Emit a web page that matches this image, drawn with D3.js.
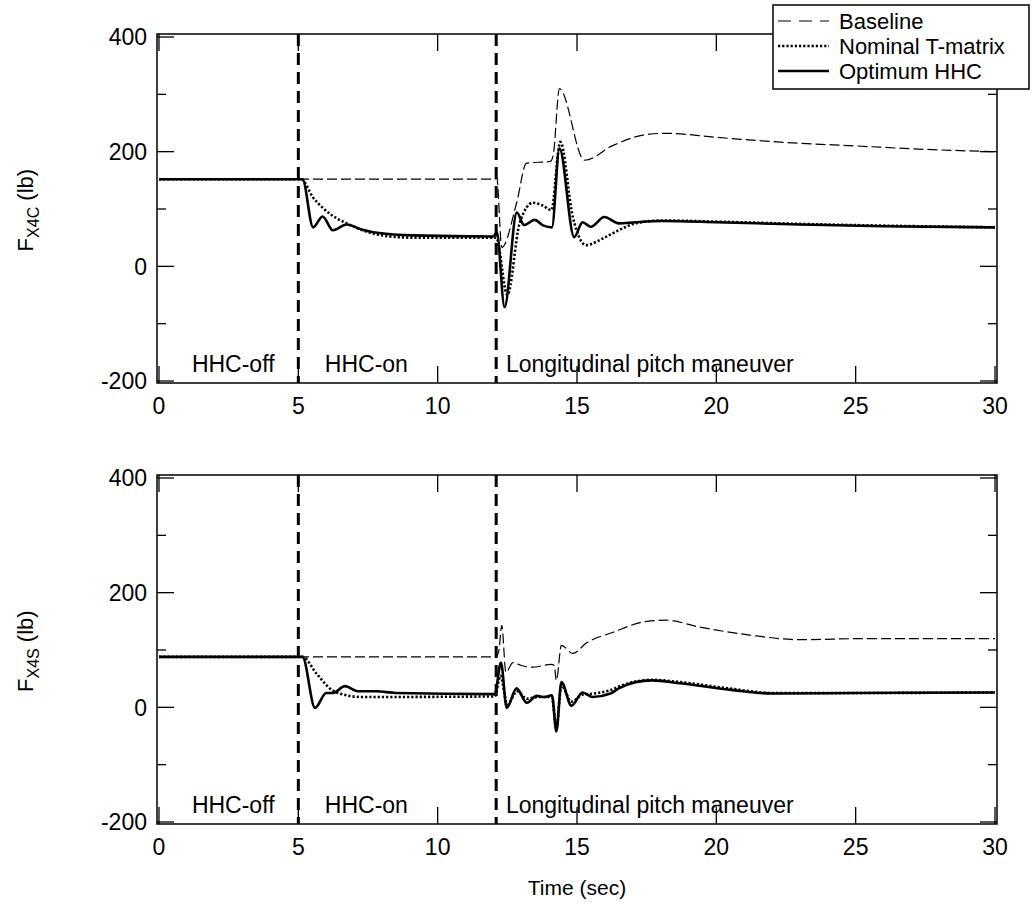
<!DOCTYPE html>
<html>
<head>
<meta charset="utf-8">
<script src="https://cdn.jsdelivr.net/npm/d3@7"></script>
<style>
  html, body { margin: 0; padding: 0; background: #fff; }
  svg { display: block; font-family: "Liberation Sans", Arial, Helvetica, sans-serif; }
</style>
</head>
<body>
<svg id="chart" width="1033" height="909"></svg>
<script>
// ---------- DATA ----------
const xTicks = [0, 5, 10, 15, 20, 25, 30];
const yTicksMajor = [-200, 0, 200, 400];
const yTicksMinor = [-100, 100, 300];
const phaseLines = [5, 12.1];
const phaseLabels = [
  { t: 1.18, text: "HHC-off" },
  { t: 5.95, text: "HHC-on" },
  { t: 12.45, text: "Longitudinal pitch maneuver" }
];
const seriesNames = ["Baseline", "Nominal T-matrix", "Optimum HHC"];

// Top panel: F_X4C (lb) — [time (sec), value]
const topBaseline = [[0,152],[12.05,152],[12.12,155],[12.3,33],[12.83,110],[13.19,180],[14.05,183],[14.15,195],[14.37,310],[15.27,185],[16.3,211],[17.5,230],[18.2,232],[20,225],[22.5,216],[25,210],[27.5,204],[30,200]];
const topNominal = [[0,152],[5.1,152],[5.53,120],[5.9,101],[6.37,84],[6.73,75],[7.3,63],[8.3,52],[9.1,50],[12.1,50],[12.5,-50],[12.94,75],[13.42,111],[13.77,106],[14.08,98],[14.4,217],[14.85,86],[15.33,37],[15.9,48],[16.5,63],[17.1,75],[18.06,80],[20,78],[23,74],[26,71],[30,68]];
const topOptimum = [[0,152],[5.15,152],[5.53,68],[5.87,87],[6.24,63],[6.73,73],[7.3,64],[7.9,58],[9.1,54],[12.0,52],[12.12,60],[12.4,-71],[12.84,94],[13.1,72],[13.48,81],[13.8,71],[14.1,68],[14.37,206],[14.9,51],[15.2,77],[15.5,69],[15.98,86],[16.5,75],[17.1,77],[18.06,79],[20,77],[23,73],[26,70],[30,68]];

// Bottom panel: F_X4S (lb) — [time (sec), value]
const botBaseline = [[0,88],[12.1,88],[12.2,100],[12.3,143],[12.45,61],[12.7,78],[13.0,73],[13.4,70],[14.08,75],[14.18,73],[14.26,47],[14.44,108],[14.85,94],[15.33,112],[16.3,131],[17.5,150],[18.2,152],[19.4,140],[21.2,126],[23,118],[25.4,120],[30,120]];
const botNominal = [[0,88],[5.15,88],[5.65,59],[6.13,33],[6.73,21],[7.3,18],[12.05,19],[12.25,55],[12.5,5],[12.85,28],[13.2,15],[13.6,18],[14.1,18],[14.26,-35],[14.44,38],[14.8,10],[15.2,22],[15.6,24],[16.2,30],[16.6,38],[17.1,45],[17.7,48],[18.7,44],[20.6,32],[22,25],[25,25],[30,26]];
const botOptimum = [[0,88],[5.15,88],[5.6,-1],[6.0,25],[6.25,25],[6.67,37],[7.13,28],[7.8,28],[8.5,25],[12.05,23],[12.27,78],[12.48,-1],[12.83,33],[13.2,8],[13.55,20],[13.83,18],[14.1,21],[14.26,-42],[14.44,44],[14.8,3],[15.2,26],[15.56,18],[16.2,24],[16.5,33],[17.1,44],[17.7,47],[18.7,42],[20.6,30],[22,24],[25,25],[30,26]];

// ---------- STYLE ----------
const styles = [
  { width: 1.2, dash: "10,4", legendDash: "13,8" },
  { width: 2.6, dash: "2.2,2", legendDash: "2.2,2" },
  { width: 2.6, dash: null, legendDash: null }
];

const svg = d3.select("#chart");
const FONT = 23;

const x = d3.scaleLinear().domain([0, 30]).range([159, 995]);

const panels = [
  { top: 37, sub: "X4C", series: [topBaseline, topNominal, topOptimum] },
  { top: 478, sub: "X4S", series: [botBaseline, botNominal, botOptimum] }
];

panels.forEach(p => {
  const y = d3.scaleLinear().domain([-200, 400]).range([p.top + 344, p.top]);
  const g = svg.append("g");
  const left = x.range()[0] - 2, right = x.range()[1] + 2;
  const topY = y(400) - 3, botY = y(-200) + 2;

  const clipId = "clip" + p.sub;
  svg.append("clipPath").attr("id", clipId).append("rect")
    .attr("x", left).attr("y", topY).attr("width", right - left).attr("height", botY - topY);

  // ticks (inward)
  const tk = g.append("g").attr("stroke", "#000").attr("stroke-width", 1.3);
  xTicks.forEach(t => {
    tk.append("line").attr("x1", x(t)).attr("x2", x(t)).attr("y1", botY).attr("y2", botY - 17);
    tk.append("line").attr("x1", x(t)).attr("x2", x(t)).attr("y1", topY).attr("y2", topY + 17);
  });
  yTicksMajor.forEach(v => {
    tk.append("line").attr("x1", left).attr("x2", left + 17).attr("y1", y(v)).attr("y2", y(v));
    tk.append("line").attr("x1", right).attr("x2", right - 17).attr("y1", y(v)).attr("y2", y(v));
  });
  yTicksMinor.forEach(v => {
    tk.append("line").attr("x1", left).attr("x2", left + 9).attr("y1", y(v)).attr("y2", y(v));
    tk.append("line").attr("x1", right).attr("x2", right - 9).attr("y1", y(v)).attr("y2", y(v));
  });

  // tick labels
  g.append("g").selectAll("text").data(yTicksMajor).join("text")
    .attr("x", 147).attr("y", d => y(d)).attr("dy", "0.36em")
    .attr("text-anchor", "end").attr("font-size", FONT).text(d => d);
  g.append("g").selectAll("text").data(xTicks).join("text")
    .attr("x", d => x(d)).attr("y", botY + 31)
    .attr("text-anchor", "middle").attr("font-size", FONT).text(d => d);

  // frame
  g.append("rect").attr("x", left).attr("y", topY).attr("width", right - left).attr("height", botY - topY)
    .attr("fill", "none").attr("stroke", "#000").attr("stroke-width", 1.5);

  // phase dashed lines
  phaseLines.forEach(t => {
    g.append("line").attr("x1", x(t)).attr("x2", x(t)).attr("y1", topY).attr("y2", botY)
      .attr("stroke", "#000").attr("stroke-width", 3).attr("stroke-dasharray", "12,7");
  });

  // phase labels
  g.append("g").selectAll("text").data(phaseLabels).join("text")
    .attr("x", d => x(d.t)).attr("y", y(-185))
    .attr("font-size", 23).text(d => d.text);

  // series
  const line = d3.line().x(d => x(d[0])).y(d => y(d[1])).curve(d3.curveMonotoneX);
  const sg = g.append("g").attr("clip-path", `url(#${clipId})`);
  p.series.forEach((data, i) => {
    const s = styles[i];
    const path = sg.append("path").datum(data).attr("d", line)
      .attr("fill", "none").attr("stroke", "#000")
      .attr("stroke-width", s.width).attr("stroke-linejoin", "round");
    if (s.dash) path.attr("stroke-dasharray", s.dash);
  });

  // y-axis label
  const cy = y(98);
  const lbl = g.append("text")
    .attr("transform", `translate(33,${cy}) rotate(-90)`)
    .attr("text-anchor", "middle").attr("font-size", 22);
  lbl.append("tspan").text("F");
  lbl.append("tspan").attr("font-size", 16).attr("dy", 6).text(p.sub);
  lbl.append("tspan").attr("dy", -6).text(" (lb)");
});

// x-axis title
svg.append("text").attr("x", (x(0) + x(30)) / 2).attr("y", 895)
  .attr("text-anchor", "middle").attr("font-size", 21).text("Time (sec)");

// legend
const lg = svg.append("g");
lg.append("rect").attr("x", 773).attr("y", 5).attr("width", 256).attr("height", 84)
  .attr("fill", "#fff").attr("stroke", "#000").attr("stroke-width", 1.5);
seriesNames.forEach((name, i) => {
  const yy = 21 + i * 25;
  const l = lg.append("line").attr("x1", 778).attr("x2", 829).attr("y1", yy).attr("y2", yy)
    .attr("stroke", "#000").attr("stroke-width", styles[i].width);
  if (styles[i].legendDash) l.attr("stroke-dasharray", styles[i].legendDash);
  lg.append("text").attr("x", 839).attr("y", yy).attr("dy", "0.36em")
    .attr("font-size", 22).text(name);
});
</script>
</body>
</html>
